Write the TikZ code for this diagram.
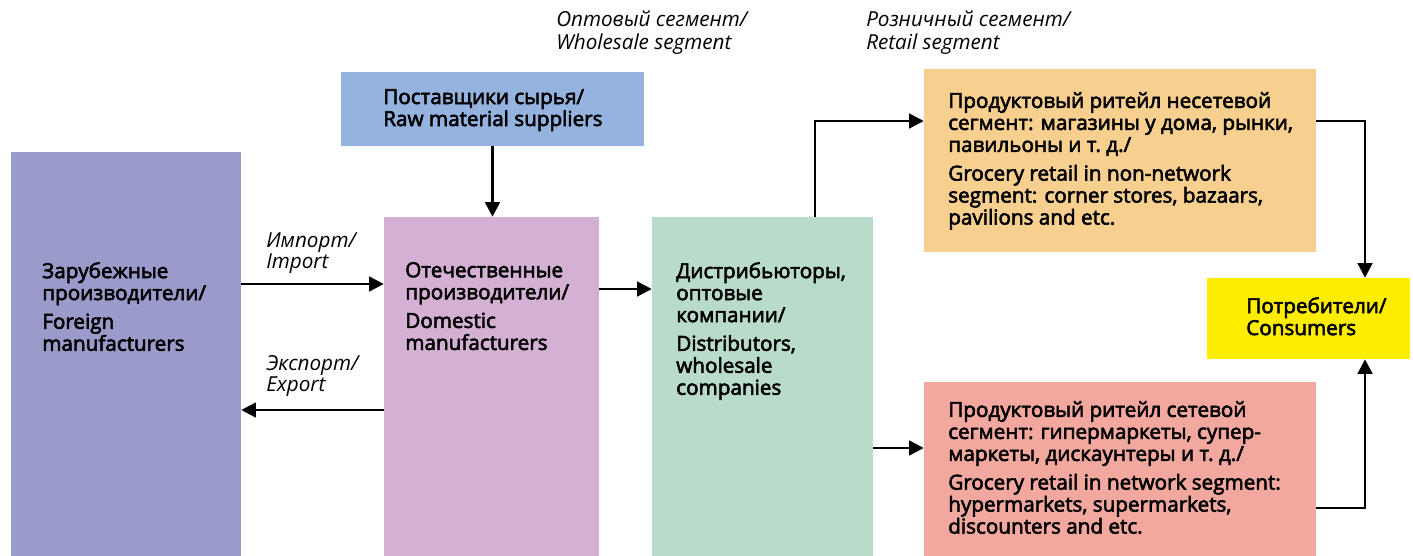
\documentclass[tikz,border=0pt]{standalone}
\usepackage{fontspec}
\setmainfont{Open Sans}
\newfontfamily\boxfont{Open Sans}[FakeBold=2.8]
\usetikzlibrary{arrows.meta,fit}

\definecolor{foreigncol}{RGB}{154,154,203}
\definecolor{rawcol}{RGB}{149,179,223}
\definecolor{domcol}{RGB}{212,176,212}
\definecolor{distcol}{RGB}{185,220,202}
\definecolor{nonnetcol}{RGB}{247,207,142}
\definecolor{netcol}{RGB}{242,168,158}
\definecolor{conscol}{RGB}{255,237,0}

\begin{document}
\begin{tikzpicture}[x=0.75pt,y=-0.75pt,
    box/.style={inner sep=0pt, draw=none},
    txt/.style={inner sep=0pt, anchor=north west, align=left,
      font=\boxfont\fontsize{15.5}{16.5}\selectfont},
    seg/.style={inner sep=0pt, anchor=north west, align=left,
      font=\itshape\fontsize{15.5}{17}\selectfont},
    flowlab/.style={inner sep=0pt, anchor=north west, align=left,
      font=\itshape\fontsize{15.5}{14.5}\selectfont},
    flow/.style={line width=2pt, -{Triangle[length=11pt,width=11pt]}}]
  \useasboundingbox (0,0) rectangle (1413,556);

  % Boxes
  \node[box, fill=foreigncol, fit={(11,152) (241,556)}] (foreign) {};
  \node[box, fill=rawcol, fit={(341,72) (644,146)}] (raw) {};
  \node[box, fill=domcol, fit={(384,217) (599,556)}] (domestic) {};
  \node[box, fill=distcol, fit={(652,217) (873,556)}] (dist) {};
  \node[box, fill=nonnetcol, fit={(924,69) (1316,252)}] (nonnet) {};
  \node[box, fill=netcol, fit={(924,382) (1316,556)}] (net) {};
  \node[box, fill=conscol, fit={(1207,278) (1410,359)}] (cons) {};

  % Box texts
  \node[txt] (foreigntxt) at (42,262) {Зарубежные\\производители/\\[5pt]Foreign\\manufacturers};
  \node[txt] (rawtxt) at (383,89) {Поставщики сырья/\\Raw material suppliers};
  \node[txt] (domtxt) at (405,262) {Отечественные\\производители/\\[5pt]Domestic\\manufacturers};
  \node[txt] (disttxt) at (676,262) {Дистрибьюторы,\\оптовые\\компании/\\[5pt]Distributors,\\wholesale\\companies};
  \node[txt] (nonnettxt) at (948,92) {Продуктовый ритейл несетевой\\сегмент: магазины у дома, рынки,\\павильоны и т.~д./\\[5pt]Grocery retail in non-network\\segment: corner stores, bazaars,\\pavilions and etc.};
  \node[txt] (nettxt) at (948,401) {Продуктовый ритейл сетевой\\сегмент: гипермаркеты, супер-\\маркеты, дискаунтеры и т.~д./\\[5pt]Grocery retail in network segment:\\hypermarkets, supermarkets,\\discounters and etc.};
  \node[txt] (constxt) at (1246,297) {Потребители/\\Consumers};

  % Segment and flow labels
  \node[seg] (wholesale) at (556,11) {Оптовый сегмент/\\Wholesale segment};
  \node[seg] (retail) at (866,11) {Розничный сегмент/\\Retail segment};
  \node[flowlab] (import) at (266,232) {Импорт/\\Import};
  \node[flowlab] (export) at (266,355) {Экспорт/\\Export};

  % Connectors
  \draw[flow] (foreign.east |- 0,284) -- (domestic.west |- 0,284);
  \draw[flow] (domestic.west |- 0,410) -- (foreign.east |- 0,410);
  \draw[flow] (raw.south) -- (raw.south |- domestic.north);
  \draw[flow] (domestic.east |- 0,289) -- (dist.west |- 0,289);
  \draw[flow] (dist.north -| 815,0) |- (nonnet.west |- 0,121);
  \draw[flow] (dist.east |- 0,448) -- (net.west |- 0,448);
  \draw[flow] (nonnet.east |- 0,121) -| (cons.north -| 1365,0);
  \draw[flow] (net.east |- 0,508) -| (cons.south -| 1365,0);
\end{tikzpicture}
\end{document}
